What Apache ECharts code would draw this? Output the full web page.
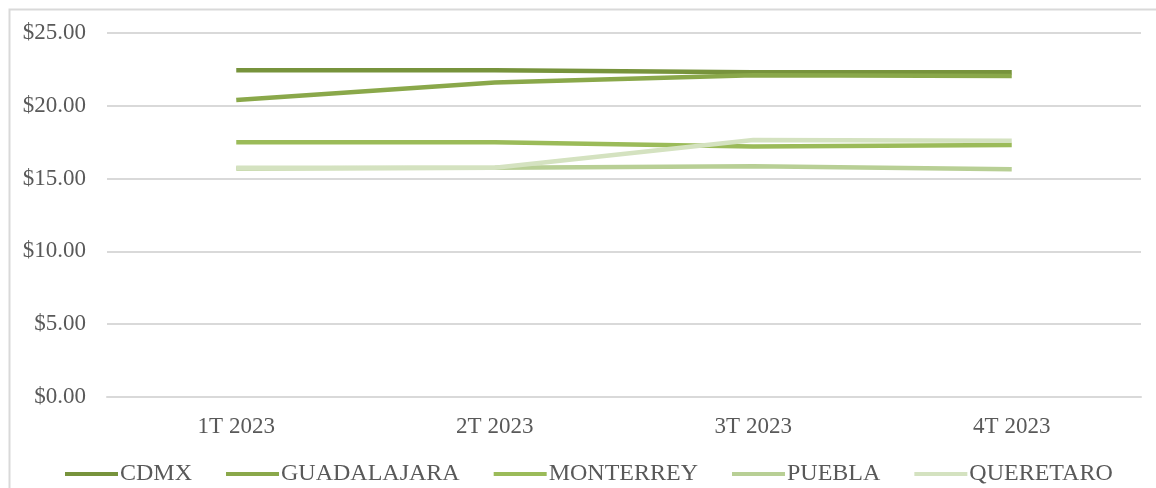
<!DOCTYPE html>
<html>
<head>
<meta charset="utf-8">
<style>
  html, body { margin: 0; padding: 0; background: #fff; }
  #container { width: 1156px; height: 488px; }
</style>
<script src="https://cdn.jsdelivr.net/npm/echarts@6/dist/echarts.min.js"></script>
</head>
<body>
<div id="container"></div>
<script>
var categories = ["1T 2023", "2T 2023", "3T 2023", "4T 2023"];
var cdmx = [22.45, 22.45, 22.3, 22.3];
var guadalajara = [20.4, 21.6, 22.1, 22.05];
var monterrey = [17.5, 17.5, 17.2, 17.3];
var puebla = [15.7, 15.75, 15.85, 15.65];
var queretaro = [15.75, 15.75, 17.65, 17.6];

var names = ["CDMX", "GUADALAJARA", "MONTERREY", "PUEBLA", "QUERETARO"];
var values = [cdmx, guadalajara, monterrey, puebla, queretaro];
var colors = ["#77933c", "#8aa84a", "#9bbb59", "#b8cf95", "#d4e2c0"];

var dom = document.getElementById("container");
var myChart = echarts.init(dom, null, { renderer: "canvas" });

var font = "Liberation Serif";

var option = {
    animation: false,
    color: colors,
    graphic: [
        {
            type: "rect",
            left: 7,
            top: 7,
            shape: { width: 1170, height: 500 },
            style: { fill: "none", stroke: "#d9d9d9", lineWidth: 2 },
            silent: true
        }
    ],
    grid: {
        left: 107,
        right: 15,
        top: 33,
        bottom: 91,
        containLabel: false
    },
    legend: {
        top: 457,
        left: 60,
        icon: "rect",
        itemWidth: 53,
        itemHeight: 4,
        itemGap: 34,
        textStyle: {
            fontFamily: font,
            fontSize: 24,
            color: "#595959",
            padding: [0, 0, 0, -3]
        },
        data: names
    },
    xAxis: {
        type: "category",
        data: categories,
        boundaryGap: true,
        axisLine: { lineStyle: { color: "#d9d9d9", width: 2 } },
        axisTick: { show: false },
        axisLabel: {
            margin: 18,
            fontFamily: font,
            fontSize: 23,
            color: "#595959"
        }
    },
    yAxis: {
        type: "value",
        min: 0,
        max: 25,
        interval: 5,
        axisLine: { show: false },
        axisTick: { show: false },
        splitLine: { lineStyle: { color: "#d9d9d9", width: 2 } },
        axisLabel: {
            margin: 21,
            fontFamily: font,
            fontSize: 23,
            color: "#595959",
            formatter: function (v) { return "$" + v.toFixed(2); }
        }
    },
    series: names.map(function (n, i) {
        return {
            name: n,
            type: "line",
            data: values[i],
            symbol: "none",
            lineStyle: { width: 4.5, color: colors[i] },
            itemStyle: { color: colors[i] }
        };
    })
};

myChart.setOption(option);
window.addEventListener("resize", myChart.resize);
</script>
</body>
</html>
